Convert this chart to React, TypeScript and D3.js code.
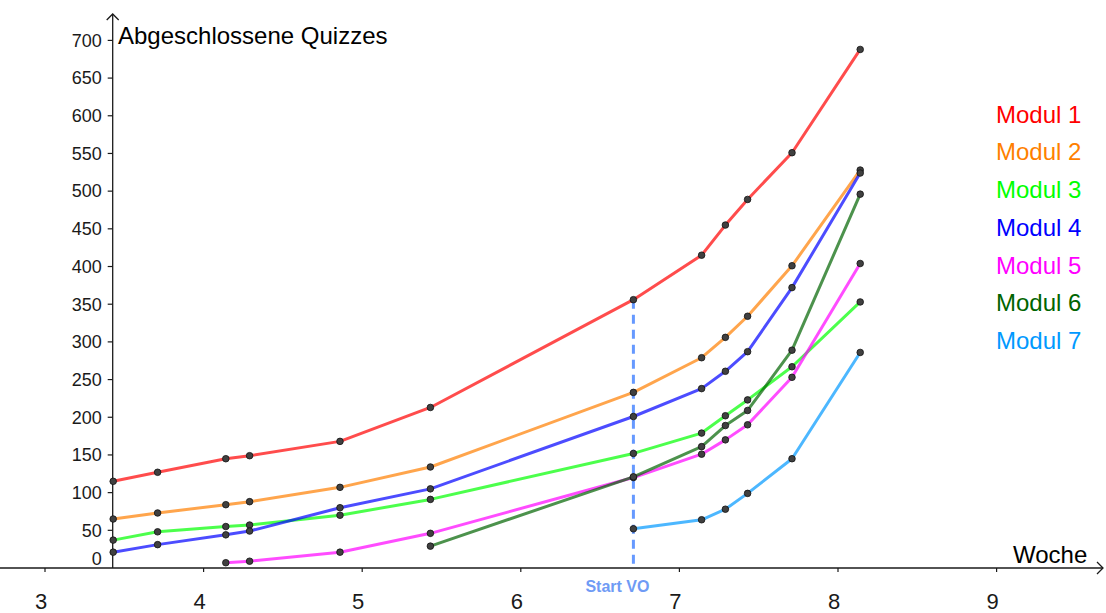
import * as d3 from 'd3';
import { useEffect, useRef } from 'react';

// Woche (Tag / 7)
const weeks = [3.43, 3.71, 4.14, 4.29, 4.86, 5.43, 6.71, 7.14, 7.29, 7.43, 7.71, 8.14];

const modul1 = [115, 127, 145, 149, 168, 213, 356, 415, 455, 489, 551, 688];
const modul2 = [65, 73, 84, 88, 107, 134, 233, 279, 306, 334, 401, 528];
const modul3 = [37, 48, 55, 57, 70, 91, 152, 179, 202, 223, 267, 353];
const modul4 = [21, 31, 44, 49, 80, 105, 201, 238, 261, 287, 372, 524];
const modul5 = [null, null, 7, 9, 21, 46, 120, 151, 170, 190, 253, 404];
const modul6 = [null, null, null, null, null, 29, 121, 161, 189, 209, 289, 496];
const modul7 = [null, null, null, null, null, null, 52, 64, 78, 99, 145, 286];

const names = ['Modul 1', 'Modul 2', 'Modul 3', 'Modul 4', 'Modul 5', 'Modul 6', 'Modul 7'];
const colors = ['#ff0000', '#ff7f00', '#00ff00', '#0000ff', '#ff00ff', '#006400', '#0099ff'];

const xTicks = [3, 4, 5, 6, 7, 8, 9];
const yTicks = [0, 50, 100, 150, 200, 250, 300, 350, 400, 450, 500, 550, 600, 650, 700];

const startVO = 6.71;
const startVOValue = 356;

export default function App() {
    const ref = useRef<SVGSVGElement>(null);

    const width = 1106,
        height = 613;

    useEffect(() => {
        const svg = d3.select(ref.current);
        svg.selectAll('*').remove();

        const x = d3.scaleLinear().domain([3, 9]).range([45, 996.6]);
        const y = d3.scaleLinear().domain([0, 700]).range([568, 40.4]);
        const axisX = 112.7; // where the y axis crosses
        const font = "'Liberation Sans', Arial, sans-serif";
        const ink = '#1a1a1a';

        // axes
        svg.append('line')
            .attr('x1', 0).attr('x2', 1103)
            .attr('y1', y(0)).attr('y2', y(0))
            .attr('stroke', ink).attr('stroke-width', 1.3);
        svg.append('path')
            .attr('d', `M${1097},${y(0) - 6}L${1103},${y(0)}L${1097},${y(0) + 6}`)
            .attr('fill', 'none').attr('stroke', ink).attr('stroke-width', 1.3);
        svg.append('line')
            .attr('x1', axisX).attr('x2', axisX)
            .attr('y1', y(0)).attr('y2', 14)
            .attr('stroke', ink).attr('stroke-width', 1.3);
        svg.append('path')
            .attr('d', `M${axisX - 6},${20}L${axisX},${14}L${axisX + 6},${20}`)
            .attr('fill', 'none').attr('stroke', ink).attr('stroke-width', 1.3);

        // x ticks
        const xt = svg.append('g');
        xt.selectAll('line').data(xTicks).join('line')
            .attr('x1', (d) => x(d)).attr('x2', (d) => x(d))
            .attr('y1', y(0)).attr('y2', y(0) + 4)
            .attr('stroke', ink).attr('stroke-width', 1.2);
        xt.selectAll('text').data(xTicks).join('text')
            .attr('x', (d) => x(d) - 4).attr('y', 609)
            .attr('text-anchor', 'middle')
            .attr('font-family', font).attr('font-size', 22).attr('fill', ink)
            .text((d) => d);

        // y ticks
        const yt = svg.append('g');
        yt.selectAll('line').data(yTicks.filter((d) => d > 0)).join('line')
            .attr('x1', axisX - 5).attr('x2', axisX)
            .attr('y1', (d) => y(d)).attr('y2', (d) => y(d))
            .attr('stroke', ink).attr('stroke-width', 1.2);
        yt.selectAll('text').data(yTicks).join('text')
            .attr('x', axisX - 11)
            .attr('y', (d) => (d === 0 ? y(d) - 9 : y(d)))
            .attr('dy', '0.35em')
            .attr('text-anchor', 'end')
            .attr('font-family', font).attr('font-size', 18).attr('fill', ink)
            .text((d) => d);

        // axis titles
        svg.append('text')
            .attr('x', 118).attr('y', 43.5)
            .attr('font-family', font).attr('font-size', 24).attr('fill', '#000')
            .text('Abgeschlossene Quizzes');
        svg.append('text')
            .attr('x', 1013).attr('y', 563)
            .attr('font-family', font).attr('font-size', 24).attr('fill', '#000')
            .text('Woche');

        // start VO marker
        svg.append('line')
            .attr('x1', x(startVO)).attr('x2', x(startVO))
            .attr('y1', y(startVOValue)).attr('y2', y(0))
            .attr('stroke', '#6699ff').attr('stroke-width', 3)
            .attr('stroke-dasharray', '9,6');
        svg.append('text')
            .attr('x', x(startVO) - 16).attr('y', 592)
            .attr('text-anchor', 'middle')
            .attr('font-family', font).attr('font-size', 16).attr('font-weight', 'bold')
            .attr('fill', '#6f9bf5')
            .text('Start VO');

        const series = [modul1, modul2, modul3, modul4, modul5, modul6, modul7];
        const line = d3.line<[number, number | null]>()
            .defined((d) => d[1] !== null)
            .x((d) => x(d[0]))
            .y((d) => y(d[1] as number));

        const lines = svg.append('g');
        const dots = svg.append('g');
        series.forEach((vals, i) => {
            const pts = weeks.map((w, j) => [w, vals[j]] as [number, number | null]);
            lines.append('path')
                .datum(pts)
                .attr('d', line)
                .attr('fill', 'none')
                .attr('stroke', colors[i])
                .attr('stroke-opacity', 0.7)
                .attr('stroke-width', 3)
                .attr('stroke-linejoin', 'round');
            dots.selectAll(null)
                .data(pts.filter((p) => p[1] !== null))
                .join('circle')
                .attr('cx', (d) => x(d[0]))
                .attr('cy', (d) => y(d[1] as number))
                .attr('r', 3.3)
                .attr('fill', '#404040')
                .attr('stroke', '#111')
                .attr('stroke-width', 0.8);
        });

        // legend
        svg.append('g')
            .selectAll('text')
            .data(names)
            .join('text')
            .attr('x', 996)
            .attr('y', (_, i) => 122.7 + i * 37.7)
            .attr('font-family', font).attr('font-size', 24)
            .attr('fill', (_, i) => colors[i])
            .text((d) => d);
    }, [width, height]);

    return (
        <svg
            ref={ref}
            width={width}
            height={height}
            style={{ position: 'absolute', left: 0, top: 0, background: '#fff' }}
        />
    );
}
